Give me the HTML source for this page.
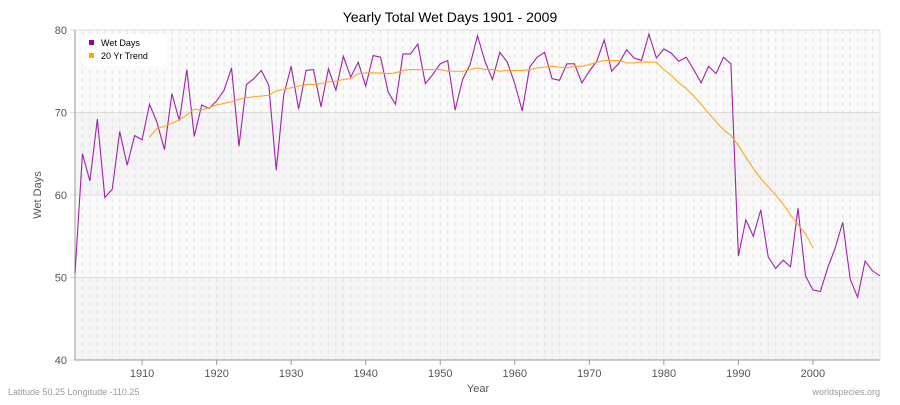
<!DOCTYPE html>
<html><head><meta charset="utf-8"><style>
body{margin:0;background:#fff;font-family:"Liberation Sans",sans-serif;}
</style></head><body>
<svg id="chart" width="900" height="400" xmlns="http://www.w3.org/2000/svg" font-family="Liberation Sans, sans-serif">
<text x="450" y="22" text-anchor="middle" font-size="14" fill="#000">Yearly Total Wet Days 1901 - 2009</text>
<g id="plot"></g>
<text x="478" y="392" text-anchor="middle" font-size="11" fill="#555">Year</text>
<text x="41" y="195" text-anchor="middle" font-size="11" fill="#555" transform="rotate(-90 41 195)">Wet Days</text>
<text x="8" y="395" font-size="9" fill="#999">Latitude 50.25 Longitude -110.25</text>
<text x="880" y="395" text-anchor="end" font-size="9" fill="#999">worldspecies.org</text>
<g>
<rect x="82" y="34" width="84" height="32" rx="4" fill="#fff" opacity="0.9"/>
<rect x="89" y="40" width="5" height="5" fill="#990099"/>
<text x="101" y="46" font-size="9" fill="#000">Wet Days</text>
<rect x="89" y="53" width="5" height="5" fill="#ffa500"/>
<text x="101" y="59" font-size="9" fill="#000">20 Yr Trend</text>
</g>
</svg>
<script>
const wetYears0 = 1901;
const wetValues = [50.5,65,61.7,69.2,59.7,60.7,67.7,63.6,67.2,66.7,71,68.8,65.5,72.3,69,75.2,67.1,70.9,70.5,71.4,72.7,75.4,65.9,73.4,74.1,75.1,73.3,63,72.1,75.6,70.4,75.1,75.2,70.7,75.3,72.7,76.8,74.3,76.1,73.2,76.9,76.7,72.5,71,77.1,77.1,78.3,73.5,74.6,75.9,76.3,70.3,74,75.8,79.3,76.2,74,77.3,76.1,73.5,70.2,75.5,76.7,77.3,74.1,73.9,75.9,75.9,73.6,75,76.2,78.8,75,76,77.6,76.6,76.3,79.5,76.6,77.7,77.2,76.2,76.7,75.2,73.6,75.6,74.7,76.7,75.9,52.6,57,55,58.2,52.5,51.1,52.1,51.3,58.4,50.2,48.5,48.3,51.2,53.6,56.7,49.8,47.6,52,50.8,50.2];
const trendYear0 = 1911;
const trendValues = [67,68.1,68.3,68.7,69.1,69.7,70.4,70.3,70.6,70.9,71.1,71.3,71.6,71.8,71.9,72,72.1,72.6,72.8,73,73.2,73.4,73.4,73.5,73.7,73.8,74,74.1,74.7,74.8,74.8,74.8,74.7,74.8,75.1,75.2,75.2,75.2,75.2,75.2,75,75,75,75.2,75.4,75.2,75.2,75,75.1,75.1,75.1,75.2,75.4,75.5,75.6,75.5,75.4,75.6,75.6,75.8,76.1,76.3,76.3,76.3,76,76,76.1,76.1,76.1,75.2,74.5,73.6,72.9,72,71,69.9,68.9,67.9,67.2,66,64.6,63.2,62,61,60,58.9,57.6,56.4,55.3,53.6];
const xTicks = [1910,1920,1930,1940,1950,1960,1970,1980,1990,2000];
const yTicks = [40,50,60,70,80];
const X0=75,X1=880,Y0=30,Y1=360;
const xs = y => X0 + (y-1901)*(X1-X0)/108;
const ys = v => Y1 - (v-40)*(Y1-Y0)/40;
const NS="http://www.w3.org/2000/svg";
const g=document.getElementById('plot');
function mk(t,a){const e=document.createElementNS(NS,t);for(const k in a)e.setAttribute(k,a[k]);g.appendChild(e);return e;}
const bands=[[40,50,'#f4f4f4'],[50,60,'#fafafa'],[60,70,'#f4f4f4'],[70,80,'#fafafa']];
bands.forEach(b=>{const r=mk('rect',{x:X0,y:ys(b[1]),width:X1-X0,height:ys(b[0])-ys(b[1]),fill:b[2]});

});
for(let y=1902;y<=2009;y++){const l=mk('line',{x1:xs(y),x2:xs(y),y1:Y0,y2:Y1,stroke:'#e2e2e2','stroke-dasharray':'4,4','stroke-width':1});

}
yTicks.forEach(v=>{const l=mk('line',{x1:X0-5,x2:X1,y1:ys(v),y2:ys(v),stroke:'#ddd','stroke-width':1});


const t=mk('text',{x:X0-8,y:ys(v)+4,'text-anchor':'end','font-size':11,fill:'#555'});t.textContent=v;

});
mk('line',{x1:X0,x2:X0,y1:Y0,y2:Y1,stroke:'#999'});
mk('line',{x1:X0,x2:X1,y1:Y1,y2:Y1,stroke:'#999'});
mk('line',{x1:X1,x2:X1,y1:Y0,y2:Y1,stroke:'#e5e5e5'});
xTicks.forEach(y=>{mk('line',{x1:xs(y),x2:xs(y),y1:Y1,y2:Y1+5,stroke:'#999'});
const t=mk('text',{x:xs(y),y:Y1+17,'text-anchor':'middle','font-size':11,fill:'#555'});t.textContent=y;

});
const p1=mk('polyline',{points:wetValues.map((v,i)=>xs(wetYears0+i)+','+ys(v)).join(' '),fill:'none',stroke:'#a020a8','stroke-width':1.1});


const p2=mk('polyline',{points:trendValues.map((v,i)=>xs(trendYear0+i)+','+ys(v)).join(' '),fill:'none',stroke:'#ffa520','stroke-width':1.1});


</script>
</body></html>
